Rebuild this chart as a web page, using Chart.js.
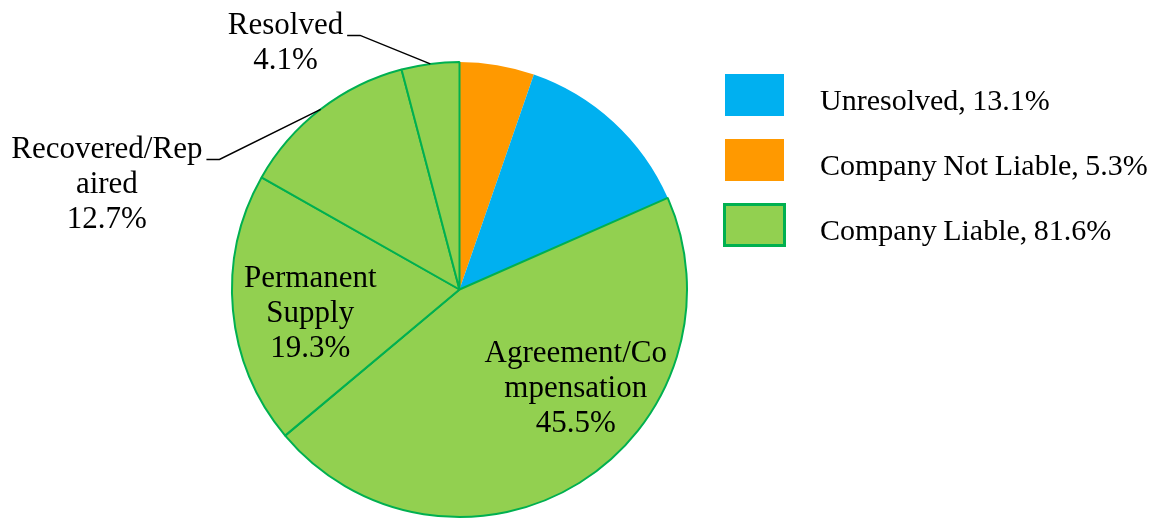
<!DOCTYPE html>
<html>
<head>
<meta charset="utf-8">
<script src="https://cdn.jsdelivr.net/npm/chart.js@4.4.0/dist/chart.umd.min.js"></script>
<style>
  html, body { margin: 0; padding: 0; background: #fff; }
  body { width: 1154px; height: 519px; position: relative; overflow: hidden; font-family: 'Liberation Serif', 'Times New Roman', serif; }
  .pie-wrap { position: absolute; left: 0; top: 0; width: 1154px; height: 519px; }
  .legend { position: absolute; left: 723px; top: 74px; display: flex; flex-direction: column; gap: 23px; }
  .legend-item { display: flex; align-items: center; height: 42px; }
  .swatch { width: 59px; height: 42px; margin: 0 36px 0 2px; box-sizing: border-box; }
  .swatch.outlined { width: 63px; height: 44px; margin: 0 34px 0 0; border: 3px solid #00B050; }
  .legend-item .txt { font-size: 30px; color: #000; position: relative; top: 5px; white-space: nowrap; word-spacing: -1px; }
</style>
</head>
<body>
<div class="pie-wrap"><canvas id="pieChart"></canvas></div>
<div class="legend" id="pieLegend"></div>
<script>
// ---- data ----
const categories = ['Company Not Liable', 'Unresolved', 'Agreement/Compensation', 'Permanent Supply', 'Recovered/Repaired', 'Resolved'];
const shares = [5.3, 13.1, 45.5, 19.3, 12.7, 4.1];
const groups = ['notLiable', 'unresolved', 'liable', 'liable', 'liable', 'liable'];

const legendNames = ['Unresolved', 'Company Not Liable', 'Company Liable'];
const legendGroups = ['unresolved', 'notLiable', 'liable'];

// ---- styles ----
const groupColor = { unresolved: '#00B0F0', notLiable: '#FF9900', liable: '#92D050' };
const liableEdge = '#00B050';
const FONT = "31px 'Liberation Serif', 'Times New Roman', serif";
const LINE_H = 35;
const WRAP_W = 200;

// label placement, in units of the pie radius from its centre
const labelLayout = {
  2: { dx: 0.511, dy: 0.436 },
  3: { dx: -0.656, dy: 0.107 },
  4: { dx: -1.550, dy: -0.462, leader: true },
  5: { dx: -0.765, dy: -1.084, leader: true }
};

function wrapText(ctx, text, maxW) {
  const lines = [];
  let cur = '';
  text.split(' ').forEach(word => {
    let trial = cur ? cur + ' ' + word : word;
    if (ctx.measureText(trial).width <= maxW) { cur = trial; return; }
    if (cur) { lines.push(cur); cur = ''; }
    // break long words by character
    for (const ch of word) {
      if (ctx.measureText(cur + ch).width > maxW && cur) { lines.push(cur); cur = ch; }
      else cur += ch;
    }
  });
  if (cur) lines.push(cur);
  return lines;
}

const sliceLabels = {
  id: 'sliceLabels',
  afterDatasetsDraw(chart) {
    const ctx = chart.ctx;
    const arcs = chart.getDatasetMeta(0).data;
    ctx.save();
    ctx.font = FONT;
    ctx.fillStyle = '#000';
    ctx.strokeStyle = '#000';
    ctx.lineWidth = 1.5;
    ctx.textAlign = 'center';
    ctx.textBaseline = 'middle';
    arcs.forEach((arc, i) => {
      const pos = labelLayout[i];
      if (!pos) return;
      const { x, y, startAngle, endAngle, outerRadius } = arc.getProps(['x', 'y', 'startAngle', 'endAngle', 'outerRadius'], true);
      const lines = wrapText(ctx, categories[i], WRAP_W).concat(shares[i].toFixed(1) + '%');
      const bx = x + pos.dx * outerRadius;
      const by = y + pos.dy * outerRadius;
      const top = by - (lines.length - 1) * LINE_H / 2;
      lines.forEach((t, k) => ctx.fillText(t, bx, top + k * LINE_H));
      if (pos.leader) {
        const mid = (startAngle + endAngle) / 2;
        const w = ctx.measureText(lines[0]).width;
        const lx = bx + w / 2 + 4, ly = top + 10;
        ctx.beginPath();
        ctx.moveTo(x + Math.cos(mid) * outerRadius, y + Math.sin(mid) * outerRadius);
        ctx.lineTo(lx + 13, ly);
        ctx.lineTo(lx, ly);
        ctx.stroke();
      }
    });
    ctx.restore();
  }
};

new Chart(document.getElementById('pieChart'), {
  type: 'pie',
  data: {
    labels: categories,
    datasets: [{
      data: shares,
      backgroundColor: groups.map(g => groupColor[g]),
      borderColor: groups.map(g => g === 'liable' ? liableEdge : 'rgba(0,0,0,0)'),
      borderWidth: groups.map(g => g === 'liable' ? 2 : 0),
      hoverBorderWidth: groups.map(g => g === 'liable' ? 2 : 0),
      hoverOffset: 0
    }]
  },
  options: {
    responsive: true,
    maintainAspectRatio: false,
    animation: false,
    events: [],
    layout: { padding: { top: 61, bottom: 1, left: 230, right: 465 } },
    plugins: { legend: { display: false }, tooltip: { enabled: false } }
  },
  plugins: [sliceLabels]
});

// ---- legend ----
document.getElementById('pieLegend').innerHTML = legendNames.map((name, k) => {
  const g = legendGroups[k];
  const total = shares.reduce((s, v, i) => groups[i] === g ? s + v : s, 0);
  return `
  <div class="legend-item">
    <span class="swatch${g === 'liable' ? ' outlined' : ''}" style="background:${groupColor[g]}"></span>
    <span class="txt">${name}, ${total.toFixed(1)}%</span>
  </div>`;
}).join('');
</script>
</body>
</html>
